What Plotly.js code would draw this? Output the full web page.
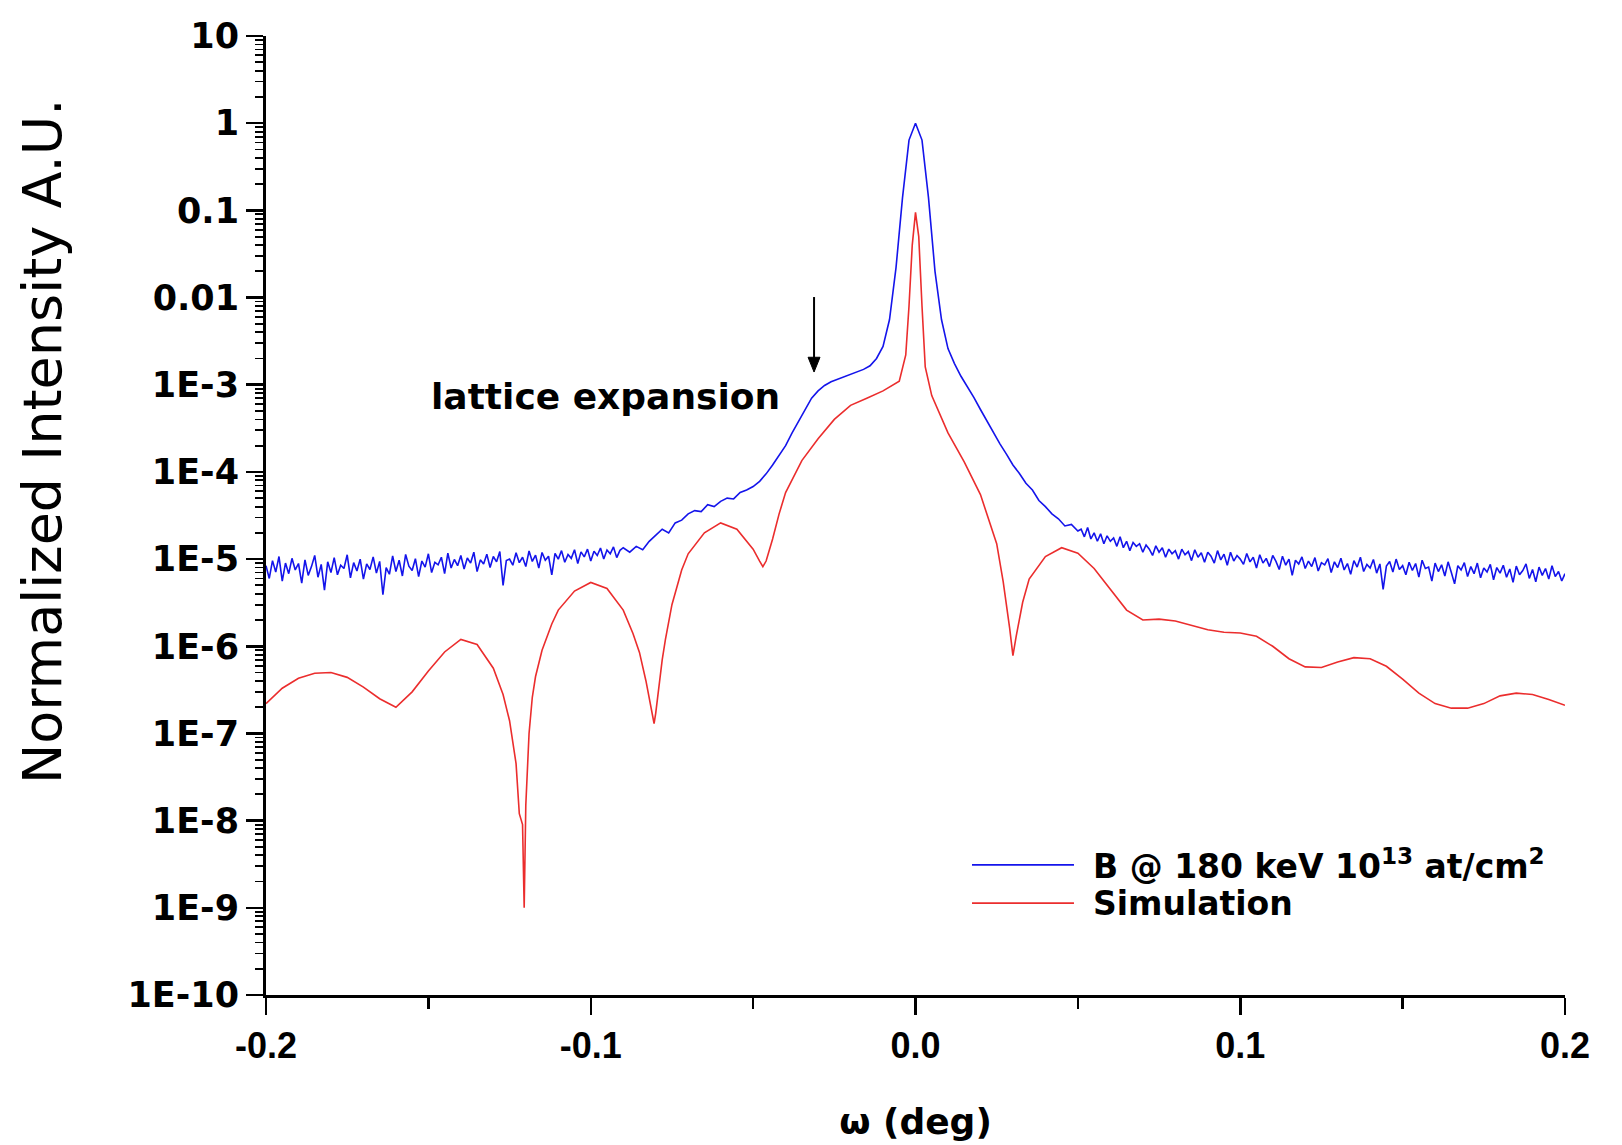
<!DOCTYPE html>
<html>
<head>
<meta charset="utf-8">
<script src="https://cdn.plot.ly/plotly-3.0.1.min.js"></script>
<style>html,body{margin:0;padding:0;background:#fff;}#chart{width:1622px;height:1145px;}</style>
</head>
<body>
<div id="chart"></div>
<script>
// ---- Measured curve: B @ 180 keV, in three regular omega segments ----
const leftStart = -0.2, leftStep = 0.001;
const leftIntensity = [
  8.4e-6, 6.0e-6, 9.6e-6, 7.1e-6, 1.07e-5, 5.6e-6, 9.0e-6, 6.8e-6, 1.02e-5, 7.5e-6,
  8.9e-6, 5.3e-6, 9.8e-6, 6.5e-6, 8.2e-6, 1.1e-5, 6.2e-6, 8.7e-6, 4.4e-6, 9.3e-6,
  7.0e-6, 1.04e-5, 6.6e-6, 8.5e-6, 7.8e-6, 1.12e-5, 6.1e-6, 9.1e-6, 7.3e-6, 1.0e-5,
  5.9e-6, 8.8e-6, 7.6e-6, 1.06e-5, 6.9e-6, 9.4e-6, 3.9e-6, 8.0e-6, 6.7e-6, 1.09e-5,
  7.2e-6, 9.7e-6, 6.4e-6, 1.13e-5, 8.3e-6, 7.4e-6, 1.01e-5, 6.3e-6, 9.5e-6, 8.1e-6,
  1.15e-5, 7.0e-6, 9.2e-6, 8.6e-6, 1.05e-5, 6.8e-6, 1.17e-5, 7.9e-6, 9.9e-6, 8.4e-6,
  1.1e-5, 7.7e-6, 1.03e-5, 9.0e-6, 1.2e-5, 7.2e-6, 9.8e-6, 8.8e-6, 1.14e-5, 8.0e-6,
  1.07e-5, 9.3e-6, 1.22e-5, 5.0e-6, 9.6e-6, 1.0e-5, 8.5e-6, 1.18e-5, 9.1e-6, 1.05e-5,
  8.2e-6, 1.24e-5, 9.4e-6, 1.11e-5, 7.9e-6, 1.19e-5, 9.7e-6, 1.08e-5, 6.6e-6, 1.16e-5,
  1.0e-5, 1.25e-5, 9.2e-6, 1.13e-5, 1.02e-5, 1.28e-5, 8.9e-6, 1.21e-5, 1.06e-5, 1.3e-5,
  9.5e-6, 1.23e-5, 1.1e-5, 1.34e-5, 1.0e-5, 1.27e-5, 1.15e-5, 1.38e-5, 1.04e-5, 1.26e-5
];
const centerStart = -0.09, centerStep = 0.002;
const centerIntensity = [
  1.35e-5, 1.2e-5, 1.4e-5, 1.28e-5, 1.6e-5,
  1.9e-5,
  2.2e-5, 2.0e-5, 2.6e-5, 2.8e-5, 3.3e-5, 3.6e-5, 3.5e-5, 4.2e-5, 4.0e-5,
  4.6e-5,
  5.0e-5, 4.9e-5, 5.8e-5, 6.2e-5,
  6.8e-5, 7.8e-5, 9.5e-5, 1.2e-4, 1.55e-4, 2.0e-4,
  2.8e-4, 3.8e-4, 5.2e-4, 7.0e-4, 8.5e-4, 9.8e-4, 1.08e-3, 1.15e-3, 1.22e-3, 1.3e-3,
  1.4e-3, 1.5e-3, 1.65e-3, 2.0e-3, 2.75e-3, 5.6e-3, 2.2e-2, 0.14, 0.64,
  1.0,
  0.64, 0.14, 2.0e-2, 5.6e-3, 2.6e-3, 1.75e-3, 1.25e-3, 9.5e-4, 7.1e-4, 5.2e-4,
  3.8e-4, 2.8e-4, 2.1e-4, 1.6e-4, 1.2e-4, 9.6e-5, 7.4e-5, 6.2e-5, 4.7e-5, 4.0e-5,
  3.3e-5, 2.9e-5, 2.4e-5, 2.5e-5, 2.1e-5
];
const rightStart = 0.051, rightStep = 0.001;
const rightIntensity = [
  2.2e-5, 1.8e-5, 2.3e-5, 1.7e-5, 2.0e-5, 1.6e-5, 1.95e-5, 1.5e-5, 1.85e-5, 1.6e-5,
  1.75e-5, 1.4e-5, 1.8e-5, 1.35e-5, 1.6e-5, 1.25e-5, 1.55e-5, 1.4e-5, 1.5e-5, 1.2e-5,
  1.45e-5, 1.3e-5, 1.1e-5, 1.42e-5, 1.2e-5, 1.35e-5, 1.05e-5, 1.3e-5, 1.15e-5, 1.25e-5,
  1.0e-5, 1.3e-5, 1.12e-5, 1.22e-5, 9.6e-6, 1.28e-5, 1.05e-5, 1.18e-5, 9.2e-6, 1.2e-5,
  1.08e-5, 9.0e-6, 1.25e-5, 9.8e-6, 1.14e-5, 8.5e-6, 1.2e-5, 9.5e-6, 1.1e-5, 1.0e-5,
  8.7e-6, 1.16e-5, 9.3e-6, 1.05e-5, 7.9e-6, 1.12e-5, 9.0e-6, 1.02e-5, 8.2e-6, 1.1e-5,
  9.4e-6, 7.6e-6, 1.08e-5, 8.5e-6, 1.0e-5, 6.5e-6, 9.7e-6, 8.8e-6, 1.06e-5, 7.8e-6,
  9.5e-6, 8.2e-6, 1.04e-5, 7.3e-6, 9.1e-6, 8.6e-6, 1.01e-5, 7.0e-6, 9.3e-6, 8.0e-6,
  1.02e-5, 7.5e-6, 8.9e-6, 6.7e-6, 9.6e-6, 8.1e-6, 1.05e-5, 7.2e-6, 8.7e-6, 7.9e-6,
  9.9e-6, 6.9e-6, 8.8e-6, 4.5e-6, 8.3e-6, 9.4e-6, 7.1e-6, 1.0e-5, 7.6e-6, 8.4e-6,
  6.6e-6, 9.2e-6, 7.4e-6, 8.9e-6, 6.2e-6, 9.7e-6, 7.8e-6, 8.1e-6, 5.6e-6, 9.0e-6,
  7.2e-6, 8.6e-6, 6.4e-6, 9.3e-6, 7.0e-6, 5.2e-6, 8.4e-6, 7.5e-6, 9.1e-6, 6.3e-6,
  8.2e-6, 6.8e-6, 9.0e-6, 6.1e-6, 7.9e-6, 7.1e-6, 8.7e-6, 5.8e-6, 8.0e-6, 6.9e-6,
  8.5e-6, 6.2e-6, 7.7e-6, 5.4e-6, 8.3e-6, 6.6e-6, 7.4e-6, 8.8e-6, 6.0e-6, 7.6e-6,
  5.5e-6, 8.1e-6, 6.5e-6, 7.8e-6, 5.9e-6, 8.4e-6, 6.3e-6, 7.2e-6, 5.6e-6, 6.8e-6
];
const gridOf = (vals, start, step) => vals.map((_, i) => +(start + i * step).toFixed(4));
const measuredOmega = [].concat(
  gridOf(leftIntensity, leftStart, leftStep),
  gridOf(centerIntensity, centerStart, centerStep),
  gridOf(rightIntensity, rightStart, rightStep)
);
const measuredIntensity = [].concat(leftIntensity, centerIntensity, rightIntensity);

// ---- Simulation curve ----
const simOmega = [
  -0.2, -0.195, -0.19, -0.185, -0.18, -0.175, -0.17, -0.165, -0.16, -0.155,
  -0.15, -0.145, -0.14, -0.135, -0.13, -0.127, -0.125, -0.123, -0.122, -0.121,
  -0.1205, -0.12, -0.119, -0.118, -0.117, -0.115, -0.112, -0.11, -0.105, -0.1,
  -0.095, -0.09, -0.087, -0.085, -0.083, -0.082, -0.081, -0.0805, -0.08, -0.079,
  -0.078, -0.077, -0.075, -0.072, -0.07, -0.065, -0.06, -0.055, -0.05, -0.048,
  -0.047, -0.046, -0.044, -0.042, -0.04, -0.035, -0.03, -0.025, -0.02, -0.015,
  -0.01, -0.005, -0.003, -0.002, -0.001, 0, 0.001, 0.002, 0.003, 0.005,
  0.01, 0.015, 0.02, 0.025, 0.027, 0.029, 0.03, 0.031, 0.033, 0.035,
  0.04, 0.045, 0.05, 0.055, 0.06, 0.065, 0.07, 0.075, 0.08, 0.085,
  0.09, 0.095, 0.1, 0.105, 0.11, 0.115, 0.12, 0.125, 0.13, 0.135,
  0.14, 0.145, 0.15, 0.155, 0.16, 0.165, 0.17, 0.175, 0.18, 0.185,
  0.19, 0.195, 0.2
];
const simIntensity = [
  2.2e-7, 3.3e-7, 4.3e-7, 4.9e-7, 5.0e-7, 4.4e-7, 3.4e-7, 2.5e-7, 2.0e-7, 3.0e-7,
  5.2e-7, 8.6e-7, 1.2e-6, 1.05e-6, 5.6e-7, 2.8e-7, 1.4e-7, 4.5e-8, 1.2e-8, 9e-9,
  1.0e-9, 1.5e-8, 1.0e-7, 2.6e-7, 4.5e-7, 9e-7, 1.8e-6, 2.6e-6, 4.3e-6, 5.4e-6,
  4.6e-6, 2.6e-6, 1.4e-6, 8.5e-7, 4.0e-7, 2.5e-7, 1.5e-7, 1.3e-7, 1.7e-7, 3.5e-7,
  7.0e-7, 1.2e-6, 3.0e-6, 7.5e-6, 1.15e-5, 2.0e-5, 2.6e-5, 2.2e-5, 1.3e-5, 9.5e-6,
  8.2e-6, 9.5e-6, 1.7e-5, 3.3e-5, 5.8e-5, 1.35e-4, 2.4e-4, 4.0e-4, 5.8e-4, 7.0e-4,
  8.5e-4, 1.1e-3, 2.2e-3, 8e-3, 0.04, 0.095, 0.05, 8e-3, 1.6e-3, 7.5e-4,
  2.8e-4, 1.3e-4, 5.5e-5, 1.5e-5, 5.5e-6, 1.6e-6, 7.8e-7, 1.3e-6, 3.2e-6, 5.9e-6,
  1.07e-5, 1.35e-5, 1.17e-5, 7.8e-6, 4.5e-6, 2.6e-6, 2.0e-6, 2.05e-6, 1.95e-6, 1.75e-6,
  1.55e-6, 1.45e-6, 1.42e-6, 1.3e-6, 1.0e-6, 7.2e-7, 5.8e-7, 5.7e-7, 6.6e-7, 7.4e-7,
  7.2e-7, 5.9e-7, 4.2e-7, 2.9e-7, 2.2e-7, 1.95e-7, 1.95e-7, 2.2e-7, 2.7e-7, 2.9e-7,
  2.8e-7, 2.45e-7, 2.1e-7
];

// ---- Axis ticks and labels ----
const yTickVals = [10, 1, 0.1, 0.01, 1e-3, 1e-4, 1e-5, 1e-6, 1e-7, 1e-8, 1e-9, 1e-10];
const yTickText = ['10', '1', '0.1', '0.01', '1E-3', '1E-4', '1E-5', '1E-6', '1E-7', '1E-8', '1E-9', '1E-10'];
const xTickVals = [-0.2, -0.1, 0, 0.1, 0.2];
const xTickText = ['-0.2', '-0.1', '0.0', '0.1', '0.2'];
const xMinorVals = [-0.15, -0.05, 0.05, 0.15];
const seriesNames = ['B @ 180 keV 10<sup>13</sup> at/cm<sup>2</sup>', 'Simulation'];

const yMinorVals = [];
for (let k = -10; k <= 0; k++) for (let m = 2; m <= 9; m++) yMinorVals.push(m * Math.pow(10, k));

const blue = 'rgb(20,20,235)';
const red = 'rgb(235,45,45)';
const boldFont = 'DejaVu Sans, sans-serif';

const traces = [
  { x: measuredOmega, y: measuredIntensity, type: 'scatter', mode: 'lines', name: seriesNames[0],
    line: { color: blue, width: 1.6 }, showlegend: false },
  { x: simOmega, y: simIntensity, type: 'scatter', mode: 'lines', name: seriesNames[1],
    line: { color: red, width: 1.6 }, showlegend: false }
];

const layout = {
  width: 1622, height: 1145,
  paper_bgcolor: '#fff', plot_bgcolor: '#fff',
  margin: { l: 266, r: 57, t: 36, b: 150 },
  showlegend: false,
  xaxis: {
    range: [-0.2, 0.2], showgrid: false, zeroline: false,
    showline: true, linecolor: '#000', linewidth: 3,
    tickmode: 'array', tickvals: xTickVals, ticktext: xTickText,
    ticks: 'outside', ticklen: 17, tickwidth: 2.5, tickcolor: '#000',
    tickfont: { family: 'Liberation Sans, Arial, sans-serif', size: 36, color: '#000', weight: 'bold' },
    minor: { tickmode: 'array', tickvals: xMinorVals, ticks: 'outside', ticklen: 11, tickwidth: 2.5, tickcolor: '#000', showgrid: false },
    title: { text: '<b>ω (deg)</b>', font: { family: boldFont, size: 36, color: '#000' }, standoff: 44 }
  },
  yaxis: {
    type: 'log', range: [-10, 1], showgrid: false, zeroline: false,
    showline: true, linecolor: '#000', linewidth: 3,
    tickmode: 'array', tickvals: yTickVals, ticktext: yTickText,
    ticks: 'outside', ticklen: 17, tickwidth: 2.5, tickcolor: '#000',
    tickfont: { family: boldFont, size: 35, color: '#000', weight: 'bold' },
    minor: { tickmode: 'array', tickvals: yMinorVals, ticks: 'outside', ticklen: 8, tickwidth: 1.8, tickcolor: '#000', showgrid: false }
  },
  shapes: [
    // legend line samples
    { type: 'line', xref: 'paper', yref: 'paper', x0: 0.5435, x1: 0.622, y0: 0.1356, y1: 0.1356, line: { color: blue, width: 1.8 } },
    { type: 'line', xref: 'paper', yref: 'paper', x0: 0.5435, x1: 0.622, y0: 0.0959, y1: 0.0959, line: { color: red, width: 1.8 } },
    // "lattice expansion" arrow
    { type: 'line', xref: 'paper', yref: 'paper', x0: 0.4219, x1: 0.4219, y0: 0.7278, y1: 0.6630, line: { color: '#000', width: 2 } },
    { type: 'path', xref: 'paper', yref: 'paper', path: 'M 0.4173 0.6650 L 0.4265 0.6650 L 0.4219 0.6496 Z',
      fillcolor: '#000', line: { color: '#000', width: 1 } }
  ],
  annotations: [
    { xref: 'paper', yref: 'paper', x: -0.1724, y: 0.5766, xanchor: 'center', yanchor: 'middle',
      text: 'Normalized Intensity A.U.', textangle: -90, showarrow: false,
      font: { family: 'DejaVu Sans, sans-serif', size: 54, color: '#000' } },
    { xref: 'paper', yref: 'paper', x: 0.635, y: 0.1356, xanchor: 'left', yanchor: 'middle',
      text: '<b>' + seriesNames[0] + '</b>', showarrow: false,
      font: { family: boldFont, size: 33, color: '#000' } },
    { xref: 'paper', yref: 'paper', x: 0.635, y: 0.0959, xanchor: 'left', yanchor: 'middle',
      text: '<b>' + seriesNames[1] + '</b>', showarrow: false,
      font: { family: boldFont, size: 33, color: '#000' } },
    { xref: 'paper', yref: 'paper', x: 0.261, y: 0.6246, xanchor: 'center', yanchor: 'middle',
      text: '<b>lattice expansion</b>', showarrow: false,
      font: { family: boldFont, size: 36, color: '#000' } }
  ]
};

Plotly.newPlot('chart', traces, layout, { staticPlot: true, displayModeBar: false });
</script>
</body>
</html>
